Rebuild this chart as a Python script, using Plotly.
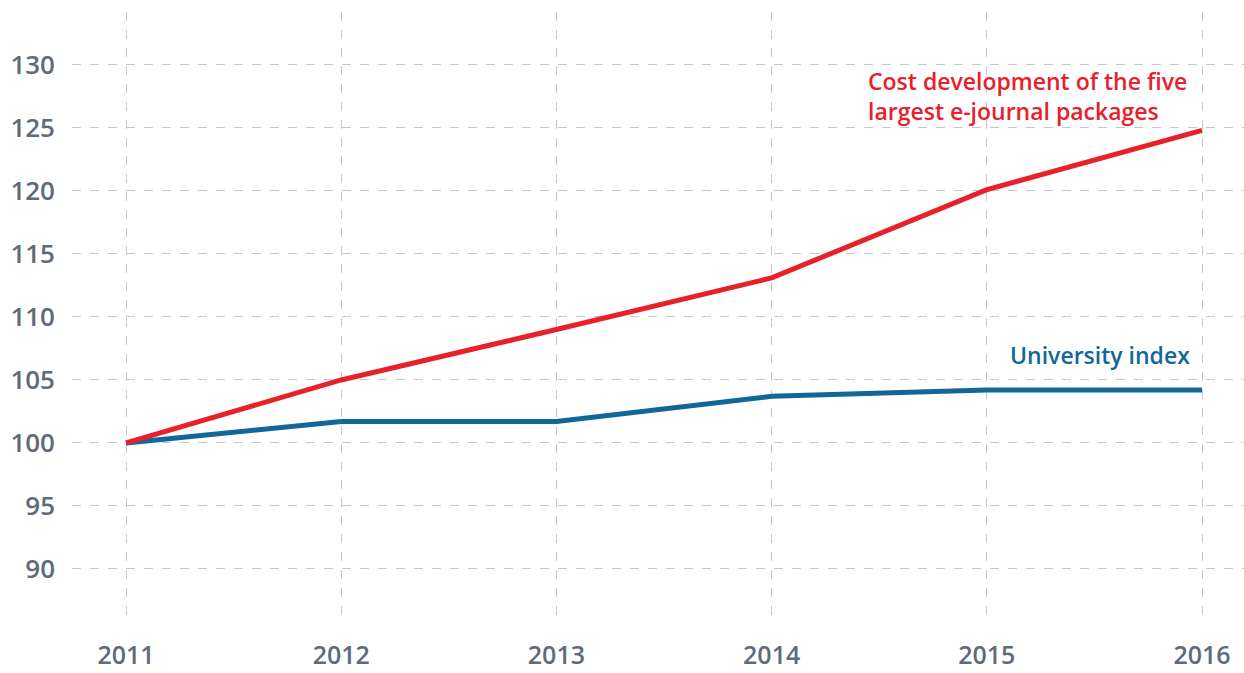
import plotly.graph_objects as go

years = [2011, 2012, 2013, 2014, 2015, 2016]
cost_packages = [100, 105, 109, 113.1, 120.1, 124.8]
university_index = [100, 101.7, 101.7, 103.7, 104.2, 104.2]
y_ticks = [90, 95, 100, 105, 110, 115, 120, 125, 130]

RED = "#e8202a"
BLUE = "#12669a"
GRAY = "#5f6b7a"
GRID = "#c3c7ce"

fig = go.Figure()
fig.add_trace(go.Scatter(x=years, y=university_index, mode="lines",
                         line=dict(color=BLUE, width=5), hoverinfo="skip"))
fig.add_trace(go.Scatter(x=years, y=cost_packages, mode="lines",
                         line=dict(color=RED, width=5), hoverinfo="skip"))

fig.add_annotation(x=2014.439, y=127.55, xref="x", yref="y",
                   text="Cost development of the five<br>largest e-journal packages",
                   showarrow=False, xanchor="left", yanchor="middle", align="left",
                   font=dict(family="Open Sans", size=23, color=RED, weight=600))
fig.add_annotation(x=2015.1, y=107.0, xref="x", yref="y",
                   text="University index",
                   showarrow=False, xanchor="left", yanchor="middle", align="left",
                   font=dict(family="Open Sans", size=23, color=BLUE, weight=600))

fig.update_layout(
    width=1244, height=673,
    margin=dict(l=72, r=0, t=12, b=53),
    paper_bgcolor="white", plot_bgcolor="white",
    showlegend=False,
    font=dict(family="Open Sans", color=GRAY),
    xaxis=dict(range=[2010.749, 2016.195], tickmode="array", tickvals=years,
               ticktext=[str(y) for y in years], automargin=False,
               showgrid=True, gridcolor=GRID, griddash="dash", gridwidth=1,
               zeroline=False, showline=False, ticks="",
               ticklabelstandoff=18,
               tickfont=dict(family="Open Sans", size=25, color=GRAY, weight=600)),
    yaxis=dict(range=[85.95, 134.2], tickmode="array", tickvals=y_ticks,
               automargin=False,
               showgrid=True, gridcolor=GRID, griddash="dash", gridwidth=1,
               zeroline=False, showline=False, ticks="",
               ticklabelstandoff=16,
               tickfont=dict(family="Open Sans", size=26, color=GRAY, weight=600)),
)

fig.write_html("out.html")
